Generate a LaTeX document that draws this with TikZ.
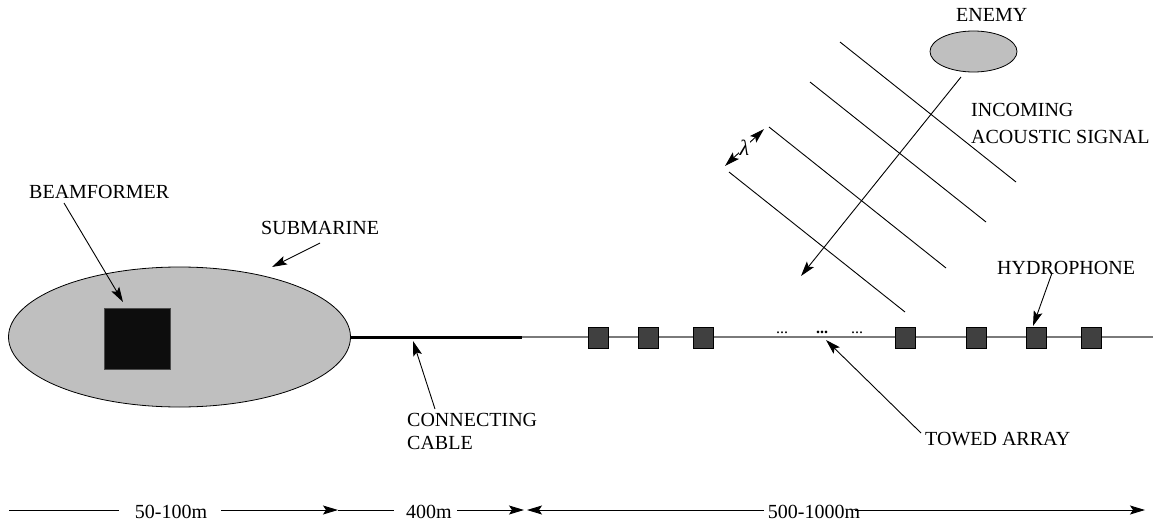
\documentclass[tikz,border=0pt]{standalone}
\usepackage{fontspec}
\setmainfont{Liberation Serif}
\usetikzlibrary{arrows.meta,shapes.geometric}
\definecolor{subgray}{HTML}{BFBFBF}
\definecolor{hydgray}{HTML}{404040}
\definecolor{bfblack}{HTML}{0D0D0D}
\definecolor{arrline}{HTML}{7A7A7A}
\tikzset{
  lbl/.style={anchor=base west, inner sep=0pt, font=\fontsize{20}{24}\selectfont},
  dimlbl/.style={anchor=base, inner sep=0pt, font=\fontsize{20}{24}\selectfont},
  arr/.style={line width=0.9pt, -{Stealth[length=15pt,width=9pt,inset=3pt]}},
  darr/.style={line width=0.9pt, {Stealth[length=15pt,width=9pt,inset=3pt]}-{Stealth[length=15pt,width=9pt,inset=3pt]}},
  wave/.style={line width=0.9pt},
  hyd/.style={draw=black, line width=0.9pt, fill=hydgray, minimum width=20pt, minimum height=21pt, inner sep=0pt},
}
\begin{document}
\begin{tikzpicture}[x=1pt,y=-1pt]
\useasboundingbox (0,0) rectangle (1165,527);

% submarine and beamformer
\node[ellipse, draw=black, line width=0.8pt, fill=subgray, minimum width=342pt, minimum height=140pt, inner sep=0pt] (sub) at (179.5,337) {};
\node[draw=black!70, line width=0.6pt, fill=bfblack, minimum width=66pt, minimum height=61pt, inner sep=0pt] (bf) at (137,338.5) {};

% cable and array line
\coordinate (cableEnd) at (522,337);
\coordinate (arrayEnd) at (1153,337);
\draw[line width=3pt] (sub.east) -- (cableEnd);
\draw[line width=1.1pt, color=arrline] (cableEnd) -- (arrayEnd);

% hydrophones
\node[hyd] (h1) at (598,338) {};
\node[hyd] (h2) at (648.5,338) {};
\node[hyd] (h3) at (703.5,338) {};
\node[hyd] (h4) at (905.5,338) {};
\node[hyd] (h5) at (976.5,338) {};
\node[hyd] (h6) at (1036.5,338) {};
\node[hyd] (h7) at (1091.5,338) {};

% dots
\node[dimlbl, font=\fontsize{16}{20}\selectfont] (d1) at (782,333) {...};
\node[dimlbl, font=\fontsize{16}{20}\selectfont\bfseries] (d2) at (822,333) {...};
\node[dimlbl, font=\fontsize{16}{20}\selectfont] (d3) at (857,333) {...};

% enemy
\node[ellipse, draw=black, line width=0.8pt, fill=subgray, minimum width=87pt, minimum height=41pt, inner sep=0pt] (enemy) at (973.5,51.5) {};
\node[lbl] (enemyL) at (956,22) {ENEMY};

% wavefronts
\coordinate (w1a) at (840,42);  \coordinate (w1b) at (1016,182);
\coordinate (w2a) at (810,82);  \coordinate (w2b) at (986,222);
\coordinate (w3a) at (769,127); \coordinate (w3b) at (946,268);
\coordinate (w4a) at (729,172); \coordinate (w4b) at (905,312);
\draw[wave] (w1a) -- (w1b);
\draw[wave] (w2a) -- (w2b);
\draw[wave] (w3a) -- (w3b);
\draw[wave] (w4a) -- (w4b);

% propagation arrow
\coordinate (propS) at (961,77);
\coordinate (propE) at (801,276);
\draw[arr] (propS) -- (propE);

% lambda
\coordinate (lamA) at (725,166);
\coordinate (lamB) at (764,129);
\draw[darr] (lamA) -- node[fill=white, inner sep=0.5pt, font=\fontsize{22}{24}\selectfont\itshape] (lam) {λ} (lamB);

% labels
\node[lbl] (incoming1) at (971,117) {INCOMING};
\node[lbl] (incoming2) at (971,143) {ACOUSTIC SIGNAL};
\node[lbl] (bfL) at (29,198) {BEAMFORMER};
\node[lbl] (subL) at (261,234) {SUBMARINE};
\node[lbl] (hydL) at (997,274) {HYDROPHONE};
\node[lbl] (conL1) at (407,426) {CONNECTING};
\node[lbl] (conL2) at (407,449) {CABLE};
\node[lbl] (towL) at (925,445) {TOWED ARRAY};

% label arrows
\coordinate (bfT) at (64,203);   \coordinate (bfH) at (123,302);
\draw[arr] (bfT) -- (bfH);
\coordinate (subT) at (320,243); \coordinate (subH) at (272,267);
\draw[arr] (subT) -- (subH);
\coordinate (hydT) at (1052,273); \coordinate (hydH) at (1033,326);
\draw[arr] (hydT) -- (hydH);
\coordinate (conT) at (435,409); \coordinate (conH) at (413,341);
\draw[arr] (conT) -- (conH);
\coordinate (towT) at (921,433); \coordinate (towH) at (826,340);
\draw[arr] (towT) -- (towH);

% dimension line
\coordinate (a0) at (9,510);   \coordinate (a1) at (119,510);
\coordinate (a2) at (221,510); \coordinate (a3) at (338,510);
\coordinate (a4) at (394,510); \coordinate (a5) at (457,510);
\coordinate (a6) at (524,510); \coordinate (a7) at (527,510);
\coordinate (a8) at (764,510); \coordinate (a9) at (855,510);
\coordinate (a10) at (1145,510);
\draw[wave] (a0) -- (a1);
\node[dimlbl] (dimA) at (171,518) {50-100m};
\draw[arr] (a2) -- (a3);
\draw[wave] (a3) -- (a4);
\node[dimlbl] (dimB) at (429,518) {400m};
\draw[arr] (a5) -- (a6);
\draw[arr] (a8) -- (a7);
\node[dimlbl] (dimC) at (814,518) {500-1000m};
\draw[arr] (a9) -- (a10);
\end{tikzpicture}
\end{document}
